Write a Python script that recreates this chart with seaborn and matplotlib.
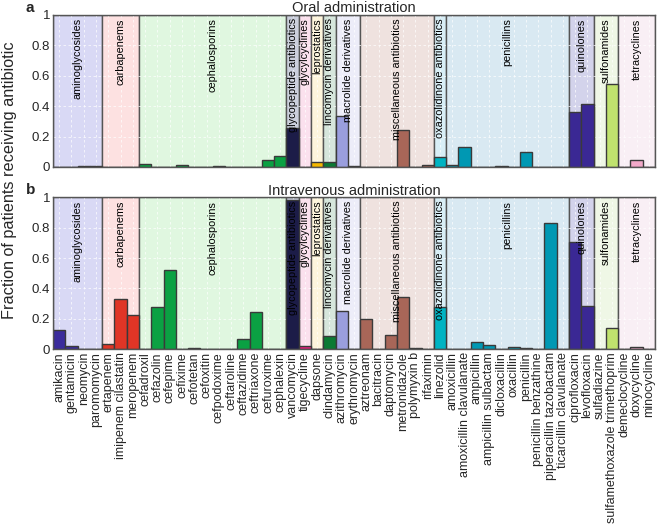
"""
Fraction of patients receiving each antibiotic, oral (a) vs intravenous (b).
Bars coloured by drug class, with a shaded band behind each class.
"""

import matplotlib
matplotlib.use("Agg")

import matplotlib.pyplot as plt
import pandas as pd
import seaborn as sns

# --- data ---
drugs = [
    "amikacin", "gentamicin", "neomycin", "paromomycin",
    "ertapenem", "imipenem cilastatin", "meropenem",
    "cefadroxil", "cefazolin", "cefepime", "cefixime", "cefotetan", "cefoxitin",
    "cefpodoxime", "ceftaroline", "ceftazidime", "ceftriaxone", "cefuroxime", "cephalexin",
    "vancomycin", "tigecycline", "dapsone", "clindamycin",
    "azithromycin", "erythromycin",
    "aztreonam", "bacitracin", "daptomycin", "metronidazole", "polymyxin b", "rifaximin",
    "linezolid",
    "amoxicillin", "amoxicillin clavulanate", "ampicillin", "ampicillin sulbactam",
    "dicloxacillin", "oxacillin", "penicillin", "penicillin benzathine",
    "piperacillin tazobactam", "ticarcillin clavulanate",
    "ciprofloxacin", "levofloxacin",
    "sulfadiazine", "sulfamethoxazole trimethoprim",
    "demeclocycline", "doxycycline", "minocycline",
]

classes = [
    "aminoglycosides", "carbapenems", "cephalosporins", "glycopeptide antibiotics",
    "glycylcyclines", "leprostatics", "lincomycin derivatives", "macrolide derivatives",
    "miscellaneous antibiotics", "oxazolidinone antibiotics", "penicillins",
    "quinolones", "sulfonamides", "tetracyclines",
]
class_sizes = [4, 3, 12, 1, 1, 1, 1, 2, 6, 1, 10, 2, 2, 3]

oral = [
    0.0, 0.0, 0.005, 0.005,
    0.0, 0.0, 0.0,
    0.022, 0.0, 0.0, 0.015, 0.0, 0.0, 0.003, 0.0, 0.0, 0.0, 0.047, 0.07,
    0.255, 0.0, 0.03, 0.03,
    0.333, 0.005,
    0.0, 0.0, 0.0, 0.24, 0.0, 0.012,
    0.066,
    0.013, 0.13, 0.0, 0.0, 0.003, 0.0, 0.10, 0.0, 0.0, 0.0,
    0.36, 0.415,
    0.0, 0.544,
    0.0, 0.044, 0.0,
]

iv = [
    0.13, 0.02, 0.0, 0.0,
    0.033, 0.333, 0.226,
    0.0, 0.28, 0.522, 0.0, 0.009, 0.0, 0.0, 0.003, 0.07, 0.243, 0.0, 0.0,
    0.98, 0.024, 0.0, 0.085,
    0.25, 0.0,
    0.2, 0.0, 0.092, 0.344, 0.009, 0.0,
    0.28,
    0.0, 0.0, 0.048, 0.026, 0.0, 0.018, 0.007, 0.0, 0.833, 0.005,
    0.708, 0.287,
    0.0, 0.14,
    0.0, 0.013, 0.0,
]

bar_colors = [
    "#3b2c9c", "#e03526", "#0ba143", "#1c1c48", "#e2207c", "#f5b800", "#0b7a33",
    "#9a9edd", "#a86658", "#00b3c2", "#0098b3", "#3a2894", "#c0e26e", "#f2a9c9",
]
band_colors = [
    "#d9d9f5", "#fde1e1", "#e0f7e0", "#cbcfdc", "#fbe1ee", "#fdf5dc", "#d6e6dc",
    "#ededf9", "#efe2df", "#d8eef6", "#d9e9f2", "#d3d3eb", "#eff7e6", "#f9eff5",
]

drug_class = [c for c, n in zip(classes, class_sizes) for _ in range(n)]
palette = dict(zip(classes, bar_colors))

sns.set_style("white")
plt.rcParams["font.family"] = ["Liberation Sans", "DejaVu Sans"]

fig = plt.figure(figsize=(6.57, 5.25), dpi=100)
ax_a = fig.add_axes([0.0807, 0.682, 0.9163, 0.2895])
ax_b = fig.add_axes([0.0807, 0.3347, 0.9163, 0.2895])


def draw_panel(ax, values, title, letter, show_labels):
    df = pd.DataFrame({"drug": drugs, "frac": values, "cls": drug_class})

    # shaded class bands behind the bars
    start = -0.5
    for cls, n, bg in zip(classes, class_sizes, band_colors):
        ax.axvspan(start, start + n, facecolor=bg, edgecolor="#555555",
                   linewidth=1.0, zorder=0.2)
        start += n

    sns.barplot(data=df, x="drug", y="frac", hue="cls", order=drugs,
                hue_order=classes, palette=palette, dodge=False, width=1.0,
                saturation=1, edgecolor="#3a3a3a", linewidth=1.0,
                legend=False, ax=ax, zorder=2)

    # class names written down from the top of each band
    start = -0.5
    for cls, n in zip(classes, class_sizes):
        ax.text(start + n / 2, 0.978, cls, rotation=90, ha="center", va="top",
                fontsize=7.8, color="black", zorder=5)
        start += n

    ax.set_xlim(-0.5, len(drugs) - 0.5)
    ax.set_ylim(0, 1)
    ax.set_yticks([0, 0.2, 0.4, 0.6, 0.8, 1])
    ax.set_yticklabels(["0", "0.2", "0.4", "0.6", "0.8", "1"], fontsize=9.5)
    ax.set_xlabel("")
    ax.set_ylabel("")
    ax.set_axisbelow(True)  # grid sits over the bands but under the bars
    ax.grid(True, color="white", linestyle=(0, (3, 3)), linewidth=0.6,
            alpha=0.8)
    ax.tick_params(axis="both", direction="in", length=2, pad=2, color="#555555")
    ax.set_xticks(range(len(drugs)))
    if show_labels:
        ax.set_xticklabels(drugs, rotation=90, fontsize=9)
    else:
        ax.set_xticklabels([])
    for sp in ax.spines.values():
        sp.set_color("#555555")
        sp.set_linewidth(1.0)
        sp.set_zorder(6)
    ax.set_title(title, fontsize=10.5, pad=2)
    ax.text(-0.038, 1.0, letter, transform=ax.transAxes, fontsize=11,
            fontweight="bold", ha="center", va="bottom")


draw_panel(ax_a, oral, "Oral administration", "a", False)
draw_panel(ax_b, iv, "Intravenous administration", "b", True)

fig.text(0.014, 0.657, "Fraction of patients receiving antibiotic", rotation=90,
         ha="center", va="center", fontsize=11.7)

fig.savefig("out.png", dpi=100)
plt.close(fig)
